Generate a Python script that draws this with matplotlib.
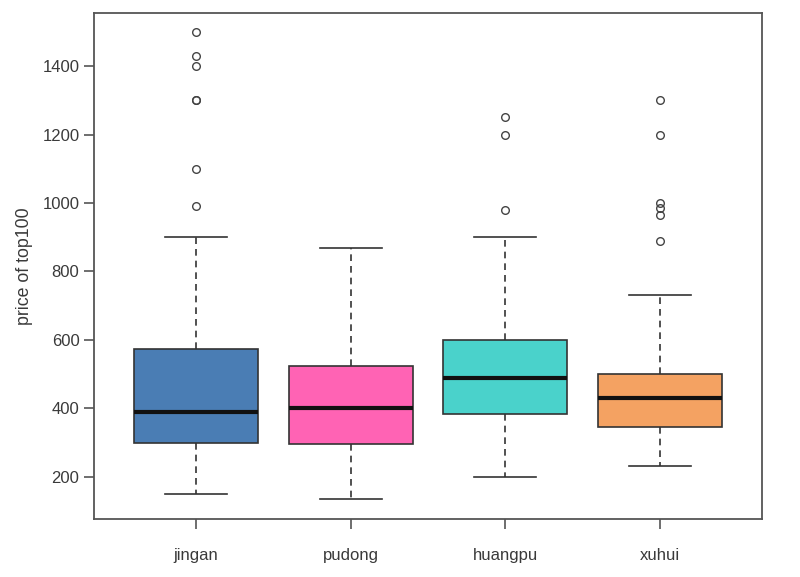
import matplotlib.pyplot as plt

plt.rcParams['font.family'] = ['Liberation Sans', 'DejaVu Sans']

# data (R-style boxplot stats)
districts = ['jingan', 'pudong', 'huangpu', 'xuhui']
whisker_low = [150, 135, 200, 232]
q1 = [298, 297, 384, 346]
medians = [391, 400, 489, 431]
q3 = [573, 525, 600, 500]
whisker_high = [900, 868, 900, 730]
outliers = [
    [990, 1100, 1300, 1300, 1400, 1430, 1500],
    [],
    [980, 1200, 1250],
    [890, 965, 985, 1000, 1200, 1300],
]
box_colors = ['#4a7db4', '#ff63b4', '#4ad2cb', '#f4a262']
yticks = [200, 400, 600, 800, 1000, 1200, 1400]

stats = []
for i, name in enumerate(districts):
    stats.append({
        'label': name,
        'whislo': whisker_low[i],
        'q1': q1[i],
        'med': medians[i],
        'q3': q3[i],
        'whishi': whisker_high[i],
        'fliers': outliers[i],
    })

fig = plt.figure(figsize=(8, 5.77), dpi=100)
ax = fig.add_axes([0.1175, 0.1005, 0.835, 0.877])

edge = '#333333'
bp = ax.bxp(stats, positions=[1, 2, 3, 4], widths=0.8, patch_artist=True,
            boxprops=dict(edgecolor=edge, linewidth=1.2),
            medianprops=dict(color='#111111', linewidth=3),
            whiskerprops=dict(color=edge, linewidth=1.2, linestyle=(0, (4, 3))),
            capprops=dict(color=edge, linewidth=1.2),
            capwidths=0.4,
            flierprops=dict(marker='o', markerfacecolor='none',
                            markeredgecolor='#444444', markersize=5.5,
                            markeredgewidth=1.0))
for patch, c in zip(bp['boxes'], box_colors):
    patch.set_facecolor(c)

ax.set_xlim(0.34, 4.66)
ax.set_ylim(77, 1555)
ax.set_yticks(yticks)
ax.set_yticklabels([str(v) for v in yticks])
ax.set_ylabel('price of top100', fontsize=12.8, color='#3a3a3a', labelpad=7)

for s in ax.spines.values():
    s.set_color('#555555')
    s.set_linewidth(1.3)
ax.tick_params(axis='both', labelsize=12, labelcolor='#3a3a3a',
               color='#555555', length=7, width=1.2)
ax.tick_params(axis='x', pad=14)

fig.savefig('out.png', dpi=100)
